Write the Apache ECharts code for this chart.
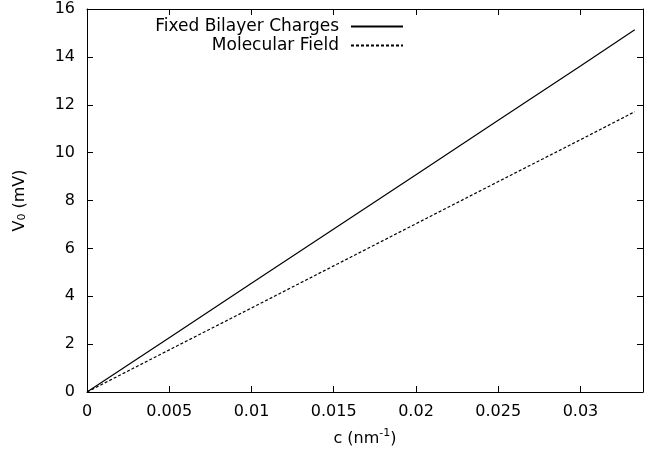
<!DOCTYPE html>
<html>
<head>
<meta charset="utf-8">
<script src="https://cdn.jsdelivr.net/npm/echarts@6/dist/echarts.min.js"></script>
<style>
  html, body { margin: 0; padding: 0; background: #fff; }
  #chart { width: 645px; height: 454px; }
</style>
</head>
<body>
<div id="chart"></div>
<script>
// values
var seriesNames = ['Fixed Bilayer Charges', 'Molecular Field'];
var cValues = [0, 0.005, 0.01, 0.015, 0.02, 0.025, 0.03, 0.0333];
var fixedCharges = [0, 2.27, 4.54, 6.81, 9.08, 11.35, 13.62, 15.13];
var molecularField = [0, 1.76, 3.51, 5.27, 7.03, 8.79, 10.54, 11.71];

function pairs(xs, ys) {
  var out = [];
  for (var i = 0; i < xs.length; i++) out.push([xs[i], ys[i]]);
  return out;
}

var font = 'DejaVu Sans, sans-serif';
var chart = echarts.init(document.getElementById('chart'));

var xBase = {
  type: 'value',
  min: 0,
  max: 0.0338,
  interval: 0.005,
  axisLine: { show: true, onZero: false, lineStyle: { color: '#000', width: 1 } },
  axisTick: { show: true, inside: true, length: 6, lineStyle: { color: '#000' } },
  splitLine: { show: false }
};
var yBase = {
  type: 'value',
  min: 0,
  max: 16,
  interval: 2,
  axisLine: { show: true, onZero: false, lineStyle: { color: '#000', width: 1 } },
  axisTick: { show: true, inside: true, length: 6, lineStyle: { color: '#000' } },
  splitLine: { show: false }
};

function legendFor(name, top) {
  return {
    data: [name],
    right: 236, top: top,
    align: 'right',
    itemWidth: 52, itemHeight: 12, itemGap: 0,
    itemStyle: { opacity: 0 },
    textStyle: { fontFamily: font, fontSize: 17, color: '#000', padding: [0, 7, 0, 0] }
  };
}

chart.setOption({
  animation: false,
  grid: { left: 87, right: 2, top: 9, bottom: 62 },
  legend: [legendFor(seriesNames[0], 13), legendFor(seriesNames[1], 32)],
  xAxis: [
    Object.assign({}, xBase, {
      position: 'bottom',
      name: '{n|c (nm}{s|-1}{n|)}',
      nameLocation: 'middle',
      nameGap: 36,
      nameTextStyle: {
        rich: {
          n: { fontFamily: font, fontSize: 16, color: '#000' },
          s: { fontFamily: font, fontSize: 11, color: '#000', verticalAlign: 'top', padding: [0, 0, 10, 0] }
        }
      },
      axisLabel: {
        fontFamily: font, fontSize: 16, color: '#000', margin: 12,
        showMaxLabel: false,
        formatter: function (v) { return String(parseFloat(v.toFixed(4))); }
      }
    }),
    Object.assign({}, xBase, {
      position: 'top',
      axisLabel: { show: false }
    })
  ],
  yAxis: [
    Object.assign({}, yBase, {
      position: 'left',
      name: '{n|V}{s|0}{n| (mV)}',
      nameLocation: 'middle',
      nameGap: 59,
      nameTextStyle: {
        rich: {
          n: { fontFamily: font, fontSize: 16, color: '#000' },
          s: { fontFamily: font, fontSize: 11, color: '#000', verticalAlign: 'bottom', padding: [6, 0, 0, 0] }
        }
      },
      axisLabel: { fontFamily: font, fontSize: 16, color: '#000', margin: 12 }
    }),
    Object.assign({}, yBase, {
      position: 'right',
      axisLabel: { show: false }
    })
  ],
  series: [
    {
      name: seriesNames[0],
      type: 'line',
      data: pairs(cValues, fixedCharges),
      symbol: 'none',
      lineStyle: { color: '#000', width: 1.2, type: 'solid' },
      itemStyle: { color: '#000' }
    },
    {
      name: seriesNames[1],
      type: 'line',
      data: pairs(cValues, molecularField),
      symbol: 'none',
      lineStyle: { color: '#000', width: 1.2, type: [3, 2] },
      itemStyle: { color: '#000' }
    }
  ]
});
</script>
</body>
</html>
